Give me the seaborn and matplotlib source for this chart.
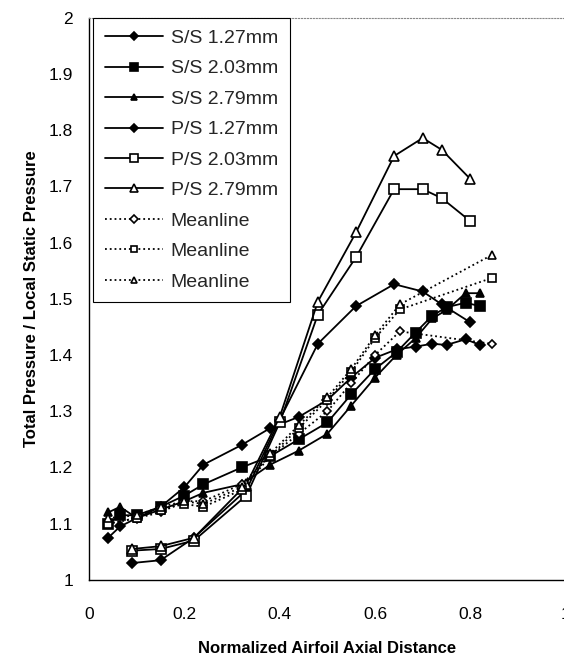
import matplotlib
matplotlib.use("Agg")
import matplotlib.pyplot as plt
import seaborn as sns

# suction side (S/S) measurement stations
ss_x = [0.04, 0.065, 0.10, 0.15, 0.20, 0.24, 0.32, 0.38, 0.44, 0.50, 0.55, 0.60, 0.645, 0.685, 0.72, 0.75, 0.79, 0.82]
ss_127 = [1.075, 1.095, 1.11, 1.13, 1.165, 1.205, 1.24, 1.27, 1.29, 1.32, 1.36, 1.395, 1.41, 1.415, 1.42, 1.418, 1.428, 1.418]
ss_203 = [1.10, 1.115, 1.115, 1.13, 1.15, 1.17, 1.20, 1.22, 1.25, 1.28, 1.33, 1.375, 1.405, 1.44, 1.47, 1.485, 1.493, 1.487]
ss_279 = [1.12, 1.13, 1.11, 1.125, 1.14, 1.155, 1.17, 1.205, 1.23, 1.26, 1.31, 1.36, 1.40, 1.43, 1.465, 1.48, 1.51, 1.51]

# pressure side (P/S) measurement stations
ps_x = [0.09, 0.15, 0.22, 0.33, 0.40, 0.48, 0.56, 0.64, 0.70, 0.74, 0.80]
ps_127 = [1.03, 1.035, 1.075, 1.16, 1.285, 1.42, 1.487, 1.526, 1.513, 1.49, 1.458]
ps_203 = [1.052, 1.055, 1.07, 1.15, 1.28, 1.472, 1.574, 1.695, 1.695, 1.679, 1.638]
ps_279 = [1.055, 1.06, 1.075, 1.17, 1.29, 1.495, 1.618, 1.754, 1.786, 1.765, 1.713]

# meanline values
ml_x = [0.04, 0.10, 0.15, 0.20, 0.24, 0.32, 0.38, 0.44, 0.50, 0.55, 0.60, 0.652, 0.845]
ml_127 = [1.10, 1.11, 1.12, 1.14, 1.14, 1.17, 1.22, 1.26, 1.30, 1.35, 1.40, 1.442, 1.42]
ml_203 = [1.10, 1.11, 1.125, 1.135, 1.13, 1.16, 1.22, 1.27, 1.32, 1.37, 1.43, 1.481, 1.537]
ml_279 = [1.11, 1.115, 1.13, 1.14, 1.135, 1.165, 1.225, 1.275, 1.325, 1.375, 1.435, 1.49, 1.578]

sns.set_theme(style="white")
plt.rcParams['font.family'] = ['Liberation Sans', 'DejaVu Sans']

fig = plt.figure(figsize=(5.64, 6.56), dpi=100)
ax = fig.add_axes([0.158, 0.116, 0.845, 0.857])

series = [
    (ss_x, ss_127, 'S/S 1.27mm', 'D', 'black', '-', 5),
    (ss_x, ss_203, 'S/S 2.03mm', 's', 'black', '-', 6.5),
    (ss_x, ss_279, 'S/S 2.79mm', '^', 'black', '-', 6),
    (ps_x, ps_127, 'P/S 1.27mm', 'D', 'black', '-', 5),
    (ps_x, ps_203, 'P/S 2.03mm', 's', 'white', '-', 6.5),
    (ps_x, ps_279, 'P/S 2.79mm', '^', 'white', '-', 6.5),
    (ml_x, ml_127, 'Meanline', 'D', 'white', ':', 4.5),
    (ml_x, ml_203, 'Meanline', 's', 'white', ':', 5.5),
    (ml_x, ml_279, 'Meanline', '^', 'white', ':', 5.5),
]

for x, y, lab, mk, fc, ls, ms in series:
    sns.lineplot(x=x, y=y, ax=ax, label=lab, color='black', linestyle=ls,
                 linewidth=1.3, marker=mk, markersize=ms, markerfacecolor=fc,
                 markeredgecolor='black', markeredgewidth=1.2, sort=False)

ax.set_xlim(0, 1)
ax.set_ylim(1, 2)
ax.set_xticks([0, 0.2, 0.4, 0.6, 0.8, 1])
ax.set_xticklabels(['0', '0.2', '0.4', '0.6', '0.8', '1'])
ax.set_yticks([1, 1.1, 1.2, 1.3, 1.4, 1.5, 1.6, 1.7, 1.8, 1.9, 2])
ax.set_yticklabels(['1', '1.1', '1.2', '1.3', '1.4', '1.5', '1.6', '1.7', '1.8', '1.9', '2'])
ax.tick_params(axis='both', direction='inout', length=7, width=0.8, color='black',
               labelsize=12.5, labelcolor='black', pad=8)
ax.tick_params(axis='x', pad=16)

for side in ['left', 'bottom']:
    ax.spines[side].set_color('black')
    ax.spines[side].set_linewidth(1.0)
for side in ['top', 'right']:
    ax.spines[side].set_color('#888888')
    ax.spines[side].set_linestyle(':')
    ax.spines[side].set_linewidth(0.8)

ax.set_xlabel('Normalized Airfoil Axial Distance', fontsize=12, fontweight='bold',
              color='black', labelpad=14)
ax.set_ylabel('Total Pressure / Local Static Pressure', fontsize=12, fontweight='bold',
              color='black', labelpad=7)

leg = ax.legend(loc='upper left', bbox_to_anchor=(0.008, 1.0), borderaxespad=0,
                fontsize=14, markerscale=0.8, handlelength=3.0, handletextpad=0.4,
                labelspacing=0.66, borderpad=0.6, fancybox=False, framealpha=1,
                edgecolor='black')
leg.get_frame().set_linewidth(0.8)

fig.savefig('out.png', dpi=100)
